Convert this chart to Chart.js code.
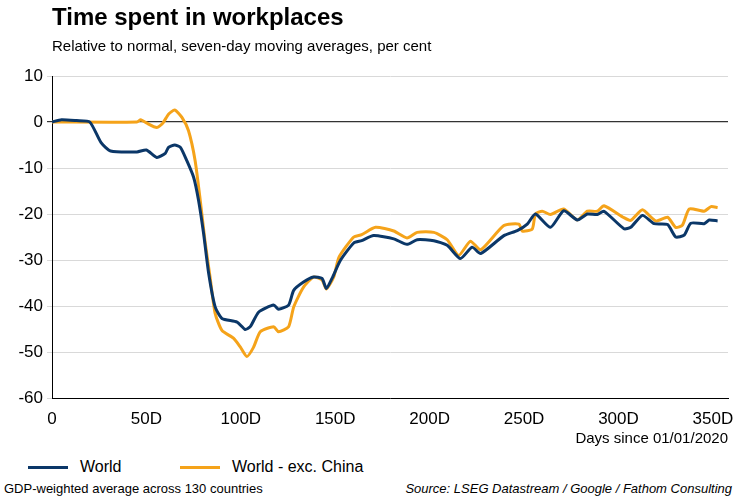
<!DOCTYPE html>
<html>
<head>
<meta charset="utf-8">
<script src="https://cdn.jsdelivr.net/npm/chart.js@4"></script>
<style>
  body { margin: 0; background: #fff; font-family: "Liberation Sans", Arial, sans-serif; }
  #wrap { position: relative; width: 750px; height: 500px; }
  #chartBox { position: absolute; left: 0; top: 0; width: 750px; height: 452px; }
  .t { position: absolute; white-space: nowrap; color: #000; }
  .leg { position: absolute; top: 458px; font-size: 16px; display: flex; align-items: center; }
  .leg span.ln { display: inline-block; width: 40px; height: 3px; margin-right: 12px; }
</style>
</head>
<body>
<div id="wrap">
  <div id="chartBox"><canvas id="chart"></canvas></div>
  <div class="t" style="left:52px;top:3px;font-size:24px;font-weight:bold;">Time spent in workplaces</div>
  <div class="t" style="left:52px;top:37px;font-size:15px;">Relative to normal, seven-day moving averages, per cent</div>
  <div class="leg" style="left:28px;"><span class="ln" style="background:#0b3768"></span>World</div>
  <div class="leg" style="left:180px;"><span class="ln" style="background:#f5a31a"></span>World - exc. China</div>
  <div class="t" style="left:4px;top:481px;font-size:13px;">GDP-weighted average across 130 countries</div>
  <div class="t" style="right:18px;top:481px;font-size:13px;font-style:italic;">Source: LSEG Datastream / Google / Fathom Consulting</div>
</div>
<script>
// values (day since 01/01/2020, per cent)
const worldDays = [0, 5, 13, 20, 26, 31, 45, 50, 55.5, 60, 61.7, 65, 68, 71.4, 75, 77.6, 80.3, 83, 86.4, 90, 98, 102.3, 105, 109.5, 117.4, 120, 125.3, 128, 133.2, 138.5, 143, 145.3, 148.3, 152.7, 159.8, 164, 170.3, 181, 188, 193.4, 202.2, 209.3, 216.3, 222.5, 227, 239.3, 246.4, 251.7, 256, 264, 271, 278.2, 283.5, 288.8, 292.3, 302.9, 306.5, 312.7, 318.9, 326, 330.3, 334.8, 338.3, 345.4, 348, 352.5];
const worldVals = [0, 0.5, 0.3, 0, -4.5, -6.3, -6.5, -6.1, -7.7, -6.8, -5.5, -5.0, -5.5, -8.4, -12, -17, -24.3, -33, -40.2, -42.7, -43.5, -45.1, -44.5, -41.3, -39.8, -40.7, -39.8, -36.6, -34.8, -33.7, -34, -36.2, -34, -30.1, -26.3, -25.8, -24.7, -25.4, -26.6, -25.6, -25.8, -26.8, -29.7, -27.2, -28.6, -24.7, -23.6, -22.2, -20, -22.9, -19.3, -21.3, -20, -20.1, -19.4, -23.2, -22.9, -20.3, -22.1, -22.3, -25, -24.6, -22, -22.1, -21.3, -21.5];
const exChinaDays = [0, 45, 47, 50, 55.5, 58.6, 61.7, 65, 68.8, 72.3, 75.8, 78.5, 81, 83.7, 86.4, 90, 96.1, 99.7, 103.2, 106.7, 110.3, 117.4, 120, 125.3, 128, 133.2, 138.5, 143, 145.3, 149.2, 152, 159.8, 164, 171.3, 181, 188, 193.4, 202.2, 209.3, 215.4, 221.6, 227, 239.3, 247.3, 249, 254.3, 256, 259.6, 264, 271, 278.2, 283.5, 288.8, 292.3, 302.9, 306.5, 312.7, 319.7, 326, 330.3, 333.9, 337.5, 345.4, 349, 352.5];
const exChinaVals = [0, 0, 0.5, -0.2, -1.2, -0.3, 1.7, 2.6, 1, -1.9, -8.4, -17, -25.8, -33.7, -41.6, -45.3, -47, -48.9, -51, -49, -45.6, -44.5, -45.6, -44.5, -40.2, -35.9, -33.7, -34.3, -36.3, -33.7, -29.4, -25, -24.5, -22.9, -23.7, -25.2, -24, -24, -25.6, -29, -25.9, -27.8, -22.5, -22.2, -23.7, -23.3, -20, -19.4, -20.1, -18.9, -21.3, -19.4, -19.4, -18.2, -20.8, -21.4, -19.1, -21.5, -20.7, -22.9, -22.4, -18.9, -19.4, -18.4, -18.6];
const xTicks = [0, 50, 100, 150, 200, 250, 300, 350];
const yTicks = [10, 0, -10, -20, -30, -40, -50, -60];

const pts = (xs, ys) => xs.map((x, i) => ({ x: x, y: ys[i] }));
const font = { family: '"Liberation Sans", Arial, sans-serif', size: 17 };

new Chart(document.getElementById('chart'), {
  type: 'line',
  data: {
    datasets: [
      { label: 'World', data: pts(worldDays, worldVals), borderColor: '#0b3768', borderWidth: 3, pointRadius: 0, tension: 0.2 },
      { label: 'World - exc. China', data: pts(exChinaDays, exChinaVals), borderColor: '#f5a31a', borderWidth: 3, pointRadius: 0, tension: 0.2 }
    ]
  },
  options: {
    animation: false,
    responsive: true,
    maintainAspectRatio: false,
    layout: { padding: { top: 76, right: 22, left: 0, bottom: 0 } },
    plugins: { legend: { display: false }, tooltip: { enabled: false } },
    scales: {
      x: {
        type: 'linear', min: 0, max: 358,
        afterBuildTicks: s => { s.ticks = xTicks.map(v => ({ value: v })); },
        ticks: { color: '#000', font: font, maxRotation: 0, callback: v => v === 0 ? '0' : v + 'D' },
        grid: { display: false },
        border: { color: '#000' },
        title: { display: true, text: 'Days since 01/01/2020', align: 'end', color: '#000', font: { family: font.family, size: 15 }, padding: { top: 0 } },
        afterFit: s => { s.height = 54; }
      },
      y: {
        min: -60, max: 10,
        afterBuildTicks: s => { s.ticks = yTicks.map(v => ({ value: v })); },
        ticks: { color: '#000', font: font, padding: 4 },
        grid: {
          color: ctx => ctx.tick && ctx.tick.value === 0 ? '#333' : '#d9d9d9',
          lineWidth: ctx => ctx.tick && ctx.tick.value === 0 ? 1.2 : 1,
          drawTicks: true, tickLength: 5
        },
        border: { color: '#000' },
        afterFit: s => { s.width = 52; }
      }
    }
  }
});
</script>
</body>
</html>
